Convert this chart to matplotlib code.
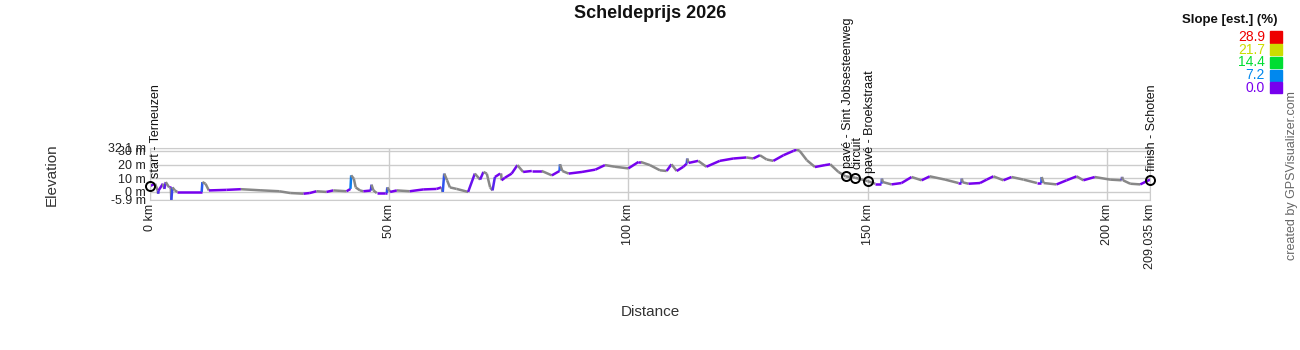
import numpy as np
import matplotlib
matplotlib.use("Agg")
from matplotlib import pyplot as plt
from matplotlib.collections import LineCollection
from matplotlib.colors import LinearSegmentedColormap

plt.rcParams['font.family'] = ['Liberation Sans', 'DejaVu Sans']

# elevation profile (km, m)
distance_km = [0, 1.05, 1.6, 1.7, 1.8, 2.7, 3.0, 3.3, 4.0, 4.35, 4.45, 4.7, 5.2, 5.7,
               10.8, 10.95, 11.6, 12.3, 16.0, 19.0, 23.0, 27.0, 29.3, 32.1, 33.4, 34.8,
               36.9, 38.3, 41.1, 41.9, 42.05, 42.6, 43.0, 43.9, 44.6, 46.15, 46.3, 46.7,
               47.4, 49.1, 49.5, 49.6, 50.2, 51.6, 54.3, 57.1, 59.9, 60.9, 61.2, 61.5,
               62.1, 62.7, 64.1, 66.5, 67.9, 69.0, 69.7, 70.4, 71.1, 71.6, 72.1, 73.2,
               73.4, 73.5, 74.2, 75.6, 76.8, 78.0, 79.8, 81.9, 84.0, 85.6, 85.7, 86.2,
               87.5, 90.3, 93.1, 95.1, 97.2, 100.0, 102.1, 102.6, 104.5, 106.6, 108.0,
               109.0, 110.1, 111.5, 112.2, 112.3, 112.6, 114.6, 116.3, 119.1, 121.9,
               124.7, 126.1, 127.5, 128.9, 130.3, 132.4, 134.5, 135.2, 135.8, 137.3,
               139.0, 141.1, 142.2, 143.9, 145.4, 147.4, 150.0, 151.6, 152.9, 153.0,
               153.2, 155.0, 157.1, 159.2, 161.3, 163.0, 166.2, 169.0, 169.6, 169.7,
               169.9, 171.1, 173.5, 174.9, 176.3, 178.4, 180.1, 182.6, 185.4, 186.3,
               186.4, 186.8, 189.5, 191.6, 193.7, 195.1, 197.5, 200.7, 203.1, 203.2,
               203.4, 204.9, 207.0, 209.035]
elevation_m = [4.3, 6.0, 1.1, -1.3, 1.1, 6.0, 2.2, 7.2, 3.3, 3.3, -5.9, 3.3, 1.1, 0.0,
               0.0, 7.2, 6.0, 1.1, 1.5, 2.0, 1.2, 0.5, -0.8, -1.3, -0.8, 0.5,
               0.0, 1.1, 0.5, 2.2, 12.1, 9.7, 3.3, 1.1, 0.5, 1.0, 5.3, 1.1,
               -0.8, -0.8, -0.8, 3.3, 0.0, 1.1, 0.5, 1.8, 2.2, 3.3, 0.0, 13.4,
               8.5, 3.3, 2.2, 0.0, 13.4, 9.0, 14.6, 13.4, 3.3, 1.1, 10.9, 13.4,
               13.4, 8.5, 10.4, 13.4, 19.6, 14.6, 15.3, 15.3, 12.1, 15.3, 20.2, 15.3,
               13.4, 14.6, 16.3, 19.6, 18.4, 17.2, 21.9, 21.9, 19.6, 15.8, 15.3,
               20.2, 15.3, 18.4, 20.7, 24.4, 21.2, 22.7, 18.4, 22.7, 24.4,
               25.2, 24.4, 26.8, 23.7, 22.7, 26.8, 30.0, 31.0, 30.0, 23.2,
               18.2, 19.6, 20.2, 14.6, 11.4, 10.4, 7.9, 6.0, 6.0, 9.7,
               7.2, 5.5, 6.5, 10.9, 8.5, 11.4, 9.0, 6.5, 6.5, 9.7,
               7.0, 6.0, 6.5, 9.0, 11.4, 8.5, 10.9, 9.0, 6.5, 6.5,
               10.9, 6.5, 5.5, 8.5, 11.4, 8.5, 10.9, 9.0, 8.5, 11.0,
               8.5, 6.0, 5.5, 9.0]

# waypoints
wpt_km = [0, 145.4, 147.4, 150.0, 209.035]
wpt_elev = [4.3, 11.4, 10.4, 7.9, 9.0]
wpt_names = ["start - Terneuzen", "pavé - Sint Jobsesteenweg", "circuit",
             "pavé - Broekstraat", "finish - Schoten"]

# slope legend
slope_ticks = [28.9, 21.7, 14.4, 7.2, 0.0]
slope_colors = ["#ee0000", "#ccdd00", "#00dd33", "#0088ee", "#7700ee"]

x_ticks = [0, 50, 100, 150, 200, 209.035]
x_labels = ["0 km", "50 km", "100 km", "150 km", "200 km", "209.035 km"]
y_ticks = [-5.9, 0, 10, 20, 30, 32.1]
y_labels = ["-5.9 m", "0 m", "10 m", "20 m", "30 m", "32.1 m"]

fig = plt.figure(figsize=(13, 3.5), dpi=100)
ax = fig.add_axes([150 / 1300, 150 / 350, 1000 / 1300, 52 / 350])

# colour every segment by its slope, descents in gray
d = np.array(distance_km)
e = np.array(elevation_m)
pts = np.column_stack([d, e]).reshape(-1, 1, 2)
segs = np.concatenate([pts[:-1], pts[1:]], axis=1)
slope = np.diff(e) / (np.diff(d) * 1000) * 100
cmap = LinearSegmentedColormap.from_list(
    "slope", list(zip([0, 0.25, 0.5, 0.75, 1.0], slope_colors[::-1])))
seg_colors = [cmap(min(s, 28.9) / 28.9) if s >= 0 else "#888888" for s in slope]
lc = LineCollection(segs, colors=seg_colors, linewidths=1.8, capstyle="butt")
ax.add_collection(lc)

ax.plot(wpt_km, wpt_elev, "o", ms=6.5, mfc="none", mec="black", mew=1.4,
        zorder=5, clip_on=False)
for km, el, name in zip(wpt_km, wpt_elev, wpt_names):
    dx = 4.5 if km == 0 else 1.5
    ax.annotate(name, (km, el), xytext=(dx, 6), textcoords="offset points",
                rotation=90, ha="center", va="bottom", fontsize=9,
                color="#111111")

ax.set_xlim(0, 209.035)
ax.set_ylim(-5.9, 32.1)
ax.set_xticks(x_ticks)
ax.set_xticklabels(x_labels, rotation=90, fontsize=9, color="#222222")
ax.set_yticks(y_ticks)
ax.set_yticklabels(y_labels, fontsize=9, color="#222222")
ax.tick_params(length=0, pad=3)
ax.grid(True, color="#cccccc", linewidth=1)
ax.set_axisbelow(True)
for s in ax.spines.values():
    s.set_color("#cccccc")

fig.text(52 / 1300, 1 - 175 / 350, "Elevation", rotation=90, ha="center",
         va="center", fontsize=11, color="#333333")
fig.text(650 / 1300, 1 - 312 / 350, "Distance", ha="center", va="center",
         fontsize=11, color="#333333")
fig.text(650 / 1300, 1 - 14 / 350, "Scheldeprijs 2026", ha="center",
         va="center", fontsize=13, fontweight="bold", color="#111111")

# slope legend, top right
fig.text(1277 / 1300, 1 - 20 / 350, "Slope [est.] (%)", ha="right",
         va="center", fontsize=9.5, fontweight="bold", color="#111111")
for i, (val, col) in enumerate(zip(slope_ticks, slope_colors)):
    yc = 1 - (37 + i * 12.7) / 350
    fig.text(1265 / 1300, yc, "%.1f" % val, ha="right", va="center",
             fontsize=10, color=col)
    fig.patches.append(plt.Rectangle((1270 / 1300, yc - 5.5 / 350), 12 / 1300,
                                     11 / 350, transform=fig.transFigure,
                                     color=col, figure=fig))

fig.text(1292 / 1300, 1 - 176 / 350, "created by GPSVisualizer.com",
         rotation=90, ha="center", va="center", fontsize=9, color="#666666")

fig.savefig("out.png", dpi=100)
